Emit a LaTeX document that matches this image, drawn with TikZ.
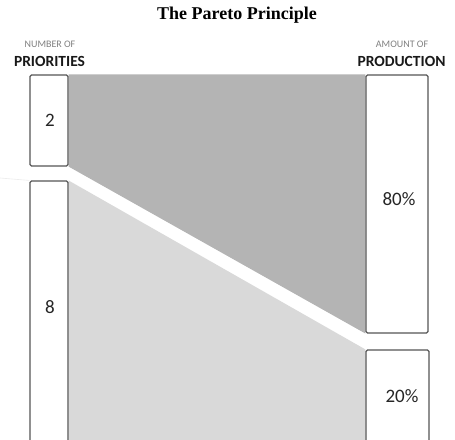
\documentclass[tikz,border=0pt]{standalone}
\usepackage{fontspec}
\setmainfont{Carlito}
\newfontfamily\titlefont{Liberation Serif}
\usetikzlibrary{backgrounds}
\definecolor{darkfill}{HTML}{B4B4B4}
\definecolor{lightfill}{HTML}{D9D9D9}
\definecolor{boxline}{HTML}{555555}
\definecolor{smalltext}{HTML}{808080}
\begin{document}
\begin{tikzpicture}[x=1pt,y=-1pt,
  barbox/.style={draw=boxline, line width=1.1pt, fill=white, rounded corners=1.5pt, inner sep=0pt},
  numtext/.style={anchor=base, font=\fontsize{19}{22}\selectfont, text=black!85},
  smalllbl/.style={anchor=base, font=\fontsize{10}{12}\selectfont, text=smalltext},
  biglbl/.style={anchor=base, font=\fontsize{15.5}{18}\selectfont\bfseries, text=black!90}]
\useasboundingbox (0,0) rectangle (455,439);
\clip (0,0) rectangle (455,439);
% boxes
\node[barbox, minimum width=38pt, minimum height=91pt] (b2) at (49,120.5) {};
\node[barbox, minimum width=38pt, minimum height=270pt] (b8) at (49,316) {};
\node[barbox, minimum width=62pt, minimum height=258pt] (b80) at (397,204) {};
\node[barbox, minimum width=63pt, minimum height=100pt] (b20) at (397.5,400) {};
\coordinate (edge) at (0,178);
% fills behind the boxes
\begin{scope}[on background layer]
\fill[darkfill] (b2.north east) -- (b80.north west) -- (b80.south west) -- (b2.south east) -- cycle;
\fill[lightfill] (b8.north east) -- (b20.north west) -- (b20.south west) -- (b8.south east) -- cycle;
\draw[black!8, line width=0.6pt] (edge) -- (b8.north west);
\end{scope}
% texts
\node[numtext] (t2) at (50,126) {2};
\node[numtext] (t8) at (50,313) {8};
\node[numtext] (t80) at (399,205) {80\%};
\node[numtext] (t20) at (402,402) {20\%};
\node[anchor=base, font=\titlefont\bfseries\fontsize{18}{21}\selectfont] (title) at (237,19.5) {The Pareto Principle};
\node[smalllbl] (nl) at (50,47) {NUMBER OF};
\node[biglbl] (pl) at (49.5,66) {PRIORITIES};
\node[smalllbl] (al) at (402,47) {AMOUNT OF};
\node[biglbl] (prl) at (401.5,66) {PRODUCTION};
\end{tikzpicture}
\end{document}
